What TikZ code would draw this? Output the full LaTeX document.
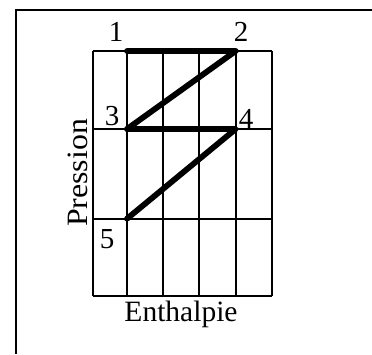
\documentclass[tikz,border=0pt]{standalone}
\usepackage{fontspec}
\setmainfont{Liberation Serif}
\begin{document}
\begin{tikzpicture}[x=1pt,y=-1pt,
  gridline/.style={line width=1.9pt, black},
  frameline/.style={line width=1.9pt, black},
  cycle/.style={line width=5.8pt, black, line cap=round, line join=round},
  lbl/.style={inner sep=0pt, anchor=base, font=\fontsize{29}{32}\selectfont},
  axlbl/.style={inner sep=0pt, anchor=base, font=\fontsize{29.5}{34}\selectfont}]
\useasboundingbox (0,0) rectangle (372,354);
% frame (top and left borders)
\coordinate (fA) at (15.7,354);
\coordinate (fB) at (15.7,10);
\coordinate (fC) at (372,10);
\draw[frameline] (fA) -- (fB) -- (fC);
% grid
\foreach \x in {92.7,127,163.3,199,235.7,271.7}
  \draw[gridline] (\x,51) -- (\x,296);
\foreach \y in {51,129,218.7,296}
  \draw[gridline] (92.7,\y) -- (271.7,\y);
% cycle points
\coordinate (p1) at (127,51);
\coordinate (p2) at (235.7,51);
\coordinate (p3) at (127,129);
\coordinate (p4) at (235.7,129);
\coordinate (p5) at (127,218.7);
\draw[cycle] (p1) -- (p2) -- (p3) -- (p4) -- (p5);
% labels
\node[lbl] (l1) at (116,41) {1};
\node[lbl] (l2) at (241,41) {2};
\node[lbl] (l3) at (112,125) {3};
\node[lbl] (l4) at (246,128) {4};
\node[lbl] (l5) at (107,248) {5};
\node[axlbl] (enth) at (181,321.7) {Enthalpie};
\node[axlbl, rotate=90, xscale=1.08] (pres) at (87,173) {Pression};
\end{tikzpicture}
\end{document}
